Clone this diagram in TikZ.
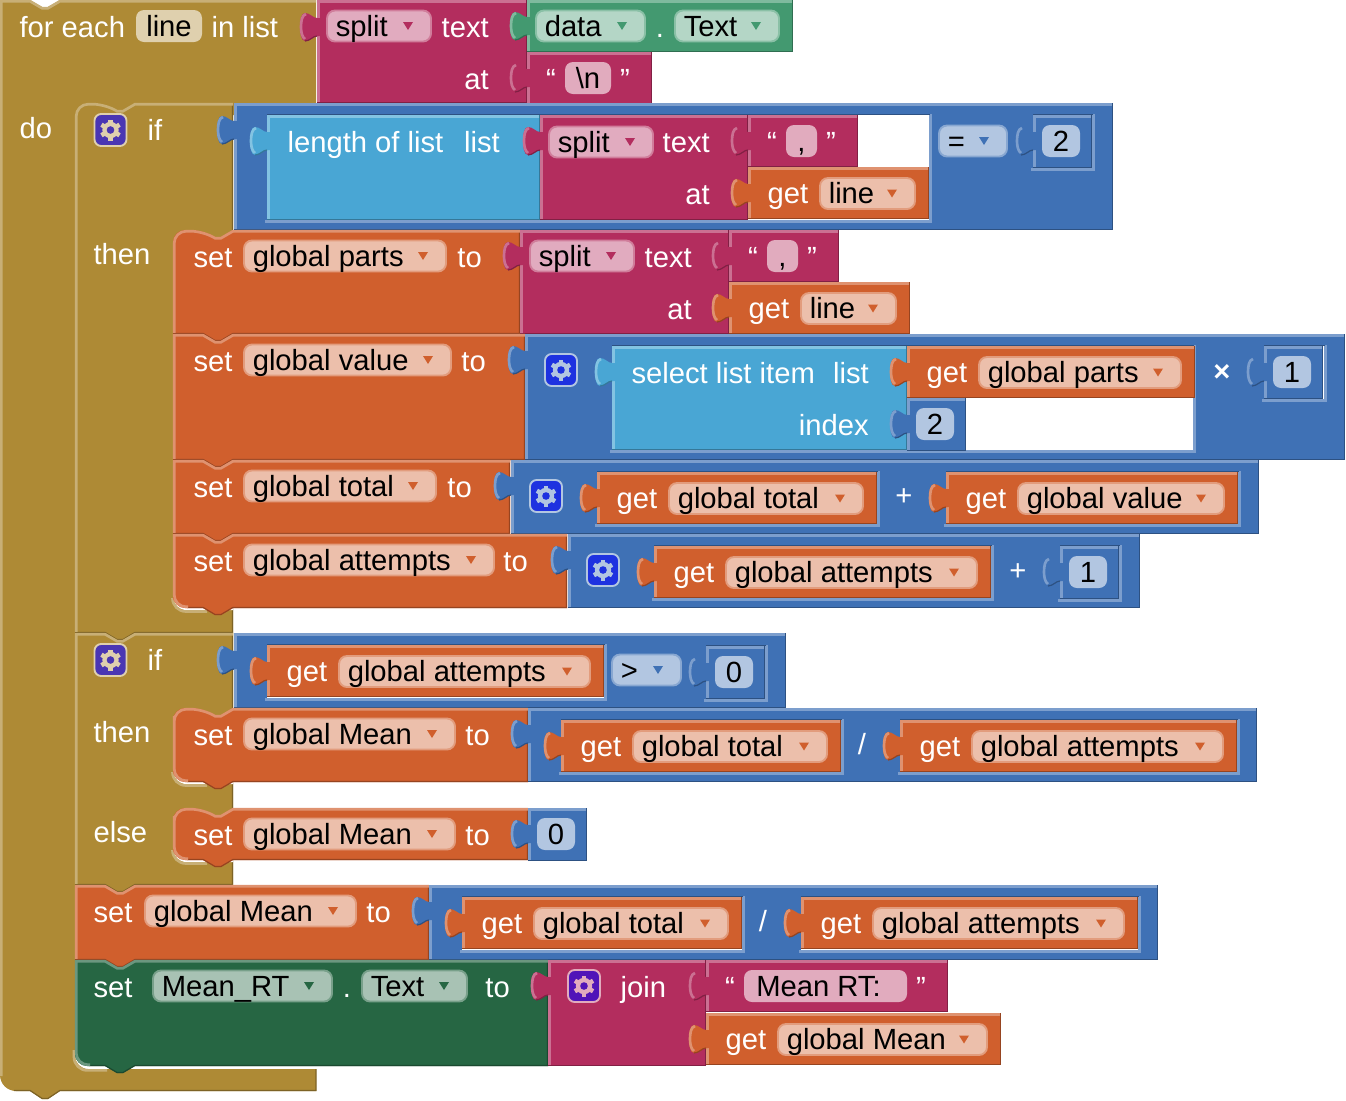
\documentclass[tikz,border=0pt]{standalone}
\usepackage{fontspec}
\setmainfont{Liberation Sans}
\definecolor{gd}{HTML}{AE8A35}
\definecolor{bl}{HTML}{3F71B5}
\definecolor{lb}{HTML}{49A6D4}
\definecolor{pk}{HTML}{B32D5E}
\definecolor{or}{HTML}{D05F2D}
\definecolor{gn}{HTML}{266643}
\definecolor{tl}{HTML}{439970}
\definecolor{gdG}{HTML}{4A36B3}
\definecolor{blG}{HTML}{1E32E0}
\definecolor{pkG}{HTML}{5014B8}
\newcommand{\blockfam}[1]{\colorlet{#1L}{#1!68!white}\colorlet{#1D}{#1!72!black}\colorlet{#1F}{#1!40!white}\colorlet{#1E}{#1!62!white}}
\blockfam{gd}\blockfam{bl}\blockfam{lb}\blockfam{pk}\blockfam{or}\blockfam{gn}\blockfam{tl}
\tikzstyle{hl}=[line width=2pt]
\tikzstyle{sh}=[line width=.9pt]
\tikzstyle{txt}=[font=\fontsize{21.9}{26}\selectfont, inner sep=0pt]
\tikzstyle{lbl}=[txt, text=white]
\newcommand{\blk}[5]{
  \fill[#1] (#2,#3) rectangle (#4,#5);
  \draw[#1L,hl] (#2+1.2,#5) -- (#2+1.2,#3+1.2) -- (#4,#3+1.2);
  \draw[#1D,sh] (#2,#5-.6) -- (#4-.6,#5-.6) -- (#4-.6,#3);
}
\newcommand{\stmt}[7]{
  \fill[#1] (#2,#3+20) [rounded corners=#6pt] -- (#2,#3) -- (#2+30,#3) [sharp corners] -- (#2+42,#3+7) -- (#2+48,#3+7) -- (#2+60,#3) -- (#4,#3) -- (#4,#5) -- (#2+60,#5) -- (#2+48,#5+7) -- (#2+42,#5+7) -- (#2+30,#5) [rounded corners=#7pt] -- (#2,#5) -- (#2,#5-20) [sharp corners] -- cycle;
  \ifnum#7>0 \def\hlx{14}\else\def\hlx{0}\fi
  \draw[#1D,sh] (#4-.6,#3) -- (#4-.6,#5-.6) -- (#2+60,#5-.6) -- (#2+48,#5+6.5) -- (#2+42,#5+6.5) -- (#2+30,#5-.6) -- (#2+\hlx,#5-.6);
  \draw[#1L,hl] (#2+1.2+\hlx,#5-1.2) [rounded corners=#7pt] -- (#2+1.2,#5-1.2) -- (#2+1.2,#3+20) [sharp corners] -- (#2+1.2,#3+20) [rounded corners=#6pt] -- (#2+1.2,#3+1.2) -- (#2+30,#3+1.2) [sharp corners] -- (#2+42,#3+8.2) -- (#2+48,#3+8.2) -- (#2+60,#3+1.2) -- (#4,#3+1.2);
}
\newcommand{\puzzle}[3]{
  \fill[#1] (#2+3,#3-9) -- (#2,#3-9) .. controls (#2-4,#3-9) and (#2-7,#3-14) .. (#2-12,#3-14) .. controls (#2-16,#3-14) and (#2-17,#3-6) .. (#2-17,#3) .. controls (#2-17,#3+6) and (#2-16,#3+14) .. (#2-12,#3+14) .. controls (#2-7,#3+14) and (#2-4,#3+9) .. (#2,#3+9) -- (#2+3,#3+9) -- cycle;
  \draw[#1L,hl] (#2-11,#3-13) .. controls (#2-15,#3-12) and (#2-16,#3-6) .. (#2-16,#3) .. controls (#2-16,#3+5) and (#2-15,#3+10) .. (#2-12,#3+12);
  \draw[#1D,sh] (#2-12,#3+14) .. controls (#2-7,#3+14) and (#2-4,#3+9) .. (#2,#3+9);
}
\newcommand{\inset}[5]{
  \fill[white] (#2,#3) rectangle (#4,#5);
  \draw[#1L,hl] (#2-2,#5+1.4) -- (#4+1.4,#5+1.4) -- (#4+1.4,#3-1);
  \draw[#1D,sh] (#2,#3-.5) -- (#4+1,#3-.5);
}
\newcommand{\wedgecut}[3]{
  \fill[white] (#1,#2-12) [rounded corners=10pt] -- (#1,#2+2) -- (#1+20,#2+2) [sharp corners] -- (#3,#2+2) -- (#3,#2-12) -- cycle;
  \draw[gdL,hl] (#1-.5,#2-10) [rounded corners=10pt] -- (#1-.5,#2+3.5) -- (#1+34,#2+3.5);
}
\newcommand{\lab}[3]{\node[lbl,anchor=base west] (lab-#1-#2) at (#1-.7,#2+10) {#3};}
\newcommand{\labr}[3]{\node[lbl,anchor=base east] (lab-#1-#2) at (#1,#2+10) {#3};}
\newcommand{\labm}[3]{\node[lbl,anchor=base] (lab-#1-#2) at (#1,#2+10) {#3};}
\newcommand{\fld}[5]{
  \draw[#1E,fill=#1F,line width=1.4pt,rounded corners=6pt] (#2+1,#4-15.5) rectangle (#3-1,#4+15.5);
  \fill[#1] (#3-29,#4-4) -- (#3-19,#4-4) -- (#3-24,#4+4) -- cycle;
  \node[txt,anchor=base west] (fld-#2-#4) at (#2+9.5,#4+10) {#5};
}
\newcommand{\fldn}[5]{
  \fill[#1F,rounded corners=6pt] (#2,#4-16) rectangle (#3,#4+16);
  \node[txt,anchor=base] (fld-#2-#4) at ({(#2+#3)/2},#4+10) {#5};
}
\newcommand{\cog}[3]{
  \draw[#1F,fill=#1G,line width=1.4pt,rounded corners=5pt] (#2-16,#3-16) rectangle (#2+16,#3+16);
  \foreach \ang in {30,90,...,330}
    \draw[#1F,line width=3.4pt] (#2,#3) -- ++(\ang:10.5);
  \fill[#1F] (#2,#3) circle (8.2);
  \fill[#1G] (#2,#3) circle (3.8);
}
\newcommand{\getb}[4]{
  \blk{or}{#1}{#2}{#3}{#2+52}
  \puzzle{or}{#1}{#2+26}
  \lab{#1+20}{#2+26.5}{get}
  \fld{or}{#1+71}{#3-13}{#2+26.5}{#4}
}
\newcommand{\numb}[3]{
  \blk{bl}{#1}{#2}{#1+59}{#2+53}
  \puzzle{bl}{#1}{#2+26}
  \fldn{bl}{#1+9}{#1+47}{#2+26}{#3}
}
\newcommand{\strb}[4]{
  \blk{pk}{#1}{#2}{#3}{#2+52}
  \puzzle{pk}{#1}{#2+26}
  \labm{#1+24}{#2+27}{“}
  \fldn{pk}{#1+38}{#3-41}{#2+26}{#4}
  \labm{#3-27}{#2+27}{”}
}
\begin{document}
\begin{tikzpicture}[x=.75pt,y=-.75pt]
  \useasboundingbox (0,0) rectangle (1346,1100);
  \fill[gd] (0,0) -- (30,0) -- (42,7) -- (48,7) -- (60,0) -- (316,0) -- (316,115) -- (75,115) -- (75,1040) [rounded corners=10pt] -- (75,1069) -- (100,1069) [sharp corners] -- (316,1069) -- (316,1091) -- (60,1091) -- (48,1099) -- (42,1099) -- (30,1091) [rounded corners=12pt] -- (0,1091) -- (0,1060) [sharp corners] -- cycle;
  \draw[gdL,hl] (1.2,1076) -- (1.2,1.2) -- (30,1.2) -- (42,8.2) -- (48,8.2) -- (60,1.2) -- (316,1.2);
  \draw[gdD,sh] (316,1069) -- (316,1090.4) -- (60,1090.4) -- (48,1098.4) -- (42,1098.4) -- (30,1090.4) -- (14,1090.4);
  \draw[gdL,hl] (74,1050) [rounded corners=10pt] -- (74,1070.4) -- (107,1070.4);
  \lab{20}{27}{for each}
  \fldn{gd}{136}{202}{26}{line}
  \lab{212}{27}{in list}
  \lab{20}{128}{do}
  \blk{pk}{317}{0}{527}{103}
  \puzzle{pk}{317}{27}
  \fld{pk}{326}{432}{26}{split}
  \labr{489}{27}{text}
  \labr{489}{79}{at}
  \blk{tl}{527}{0}{793}{52}
  \puzzle{tl}{527}{26}
  \fld{tl}{535}{646}{26}{data}
  \labm{660}{27}{.}
  \fld{tl}{674}{780}{26}{Text}
  \strb{527}{52}{652}{\textbackslash n}
  \stmt{gd}{75}{103}{233}{633}{9}{0}
  \stmt{gd}{75}{633}{233}{885}{0}{0}
  \wedgecut{173}{608}{233}
  \wedgecut{173}{782}{233}
  \wedgecut{173}{860}{233}
  \cog{gd}{110.5}{130}
  \lab{148}{130}{if}
  \lab{94}{254}{then}
  \blk{bl}{234}{103}{1113}{230}
  \puzzle{bl}{234}{130}
  \inset{bl}{267}{115}{929}{220}
  \blk{lb}{267}{115}{540}{220}
  \puzzle{lb}{267}{141}
  \lab{288}{142}{length of list}
  \labr{500}{142}{list}
  \blk{pk}{540}{115}{748}{220}
  \puzzle{pk}{540}{141}
  \fld{pk}{548}{654}{142}{split}
  \labr{710}{142}{text}
  \labr{710}{194}{at}
  \strb{748}{115}{858}{,}
  \getb{748}{167}{929}{line}
  \fld{bl}{938}{1008}{141}{=}
  \inset{bl}{1033}{115}{1092}{168}
  \numb{1033}{115}{2}
  \stmt{or}{173}{230}{520}{334}{9}{0}
  \lab{194}{257}{set}
  \fld{or}{243}{447}{256}{global parts}
  \labr{482}{257}{to}
  \blk{pk}{520}{230}{729}{334}
  \puzzle{pk}{520}{256}
  \fld{pk}{529}{635}{256}{split}
  \labr{692}{257}{text}
  \labr{692}{309}{at}
  \strb{729}{230}{839}{,}
  \getb{729}{282}{910}{line}
  \stmt{or}{173}{334}{525}{460}{0}{0}
  \lab{194}{361}{set}
  \fld{or}{243}{452}{360}{global value}
  \labr{486}{361}{to}
  \blk{bl}{525}{334}{1345}{460}
  \puzzle{bl}{525}{360}
  \cog{bl}{561}{370}
  \inset{bl}{612}{346}{1193}{450}
  \blk{lb}{612}{346}{907}{450}
  \puzzle{lb}{612}{372}
  \lab{632}{373}{select list item}
  \labr{869}{373}{list}
  \labr{869}{425}{index}
  \getb{907}{346}{1195}{global parts}
  \numb{907}{398}{2}
  \labm{1222}{371}{\textbf{×}}
  \inset{bl}{1264}{346}{1324}{399}
  \numb{1264}{346}{1}
  \stmt{or}{173}{460}{510}{534}{0}{0}
  \lab{194}{487}{set}
  \fld{or}{243}{437}{486}{global total}
  \labr{472}{487}{to}
  \blk{bl}{511}{460}{1259}{534}
  \puzzle{bl}{511}{486}
  \cog{bl}{546}{496}
  \inset{bl}{597}{472}{877}{524}
  \getb{597}{472}{877}{global total}
  \labm{904}{495}{+}
  \inset{bl}{946}{472}{1238}{524}
  \getb{946}{472}{1238}{global value}
  \stmt{or}{173}{534}{567}{608}{0}{9}
  \lab{194}{561}{set}
  \fld{or}{243}{495}{560}{global attempts}
  \labr{528}{561}{to}
  \blk{bl}{568}{534}{1140}{608}
  \puzzle{bl}{568}{560}
  \cog{bl}{603}{570}
  \inset{bl}{654}{546}{991}{598}
  \getb{654}{546}{991}{global attempts}
  \labm{1018}{570}{+}
  \inset{bl}{1060}{546}{1119}{599}
  \numb{1060}{546}{1}
  \cog{gd}{110.5}{660}
  \lab{148}{660}{if}
  \lab{94}{732}{then}
  \lab{94}{832}{else}
  \blk{bl}{234}{633}{786}{708}
  \puzzle{bl}{234}{660}
  \inset{bl}{267}{645}{604}{698}
  \getb{267}{645}{604}{global attempts}
  \fld{bl}{611}{682}{670}{>}
  \inset{bl}{706}{646}{765}{699}
  \numb{706}{646}{0}
  \stmt{or}{173}{708}{528}{782}{9}{9}
  \lab{194}{735}{set}
  \fld{or}{243}{456}{734}{global Mean}
  \labr{490}{735}{to}
  \blk{bl}{528}{708}{1257}{782}
  \puzzle{bl}{528}{734}
  \inset{bl}{561}{720}{841}{772}
  \getb{561}{720}{841}{global total}
  \labm{862}{744}{/}
  \inset{bl}{900}{720}{1237}{772}
  \getb{900}{720}{1237}{global attempts}
  \stmt{or}{173}{808}{528}{860}{9}{9}
  \lab{194}{835}{set}
  \fld{or}{243}{456}{834}{global Mean}
  \labr{490}{835}{to}
  \numb{528}{808}{0}
  \stmt{or}{75}{885}{429}{960}{0}{0}
  \lab{94}{912}{set}
  \fld{or}{144}{357}{911}{global Mean}
  \labr{391}{912}{to}
  \blk{bl}{429}{885}{1158}{960}
  \puzzle{bl}{429}{911}
  \inset{bl}{462}{897}{742}{950}
  \getb{462}{897}{742}{global total}
  \labm{763}{921}{/}
  \inset{bl}{801}{897}{1138}{950}
  \getb{801}{897}{1138}{global attempts}
  \stmt{gn}{75}{960}{548}{1066}{0}{9}
  \lab{94}{987}{set}
  \fld{gn}{152}{333}{986}{Mean\_RT}
  \labm{347}{987}{.}
  \fld{gn}{361}{468}{986}{Text}
  \labr{510}{987}{to}
  \blk{pk}{548}{960}{706}{1066}
  \puzzle{pk}{548}{986}
  \cog{pk}{584}{986}
  \lab{621}{987}{join}
  \strb{706}{960}{948}{Mean RT:\kern10.5pt}
  \getb{706}{1013}{1001}{global Mean}
\end{tikzpicture}
\end{document}
